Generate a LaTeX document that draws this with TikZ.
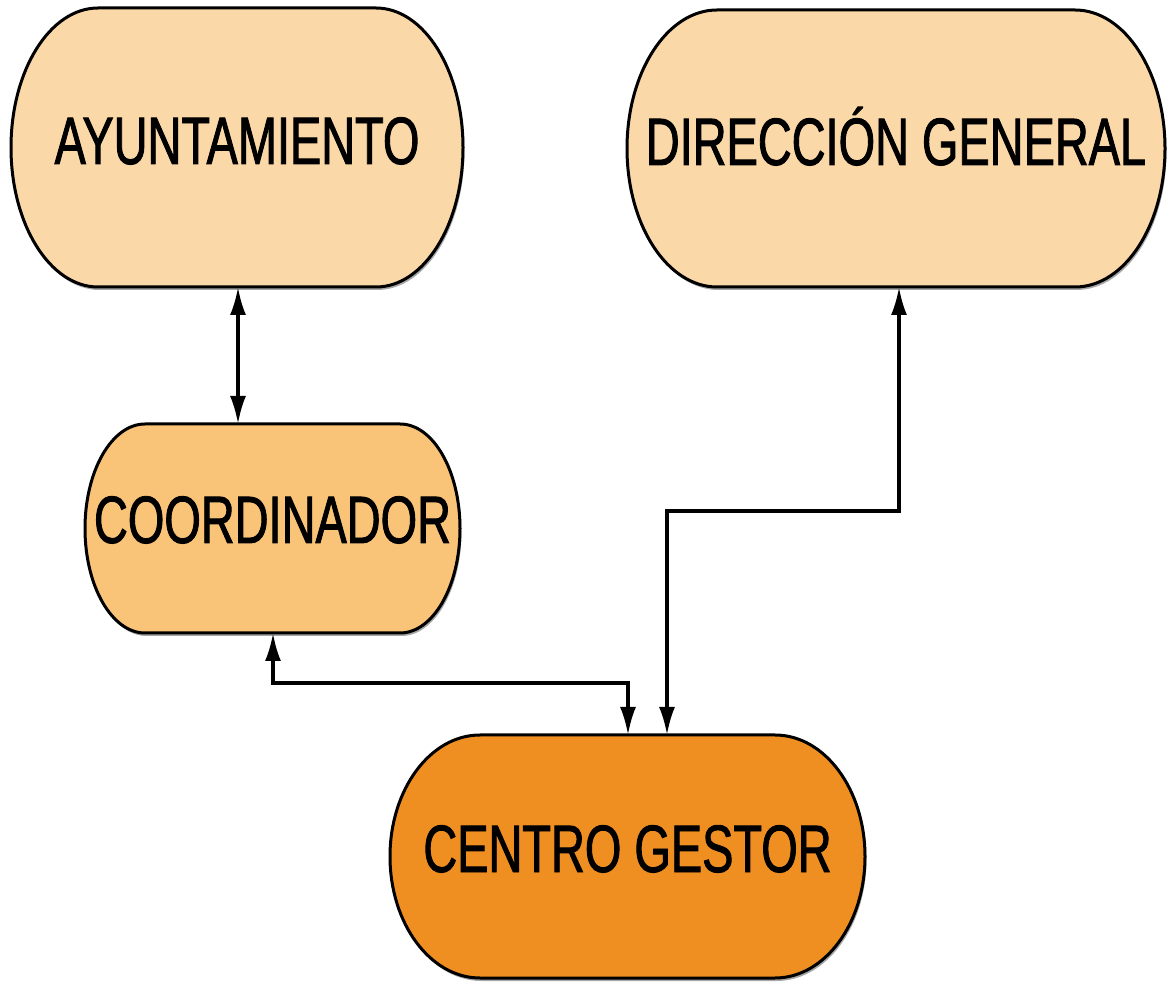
\documentclass[tikz,border=0pt]{standalone}
\usepackage{fontspec}
\newfontfamily\lbl[FakeStretch=0.7,FakeBold=1.3]{Liberation Sans}
\usetikzlibrary{arrows.meta,calc}
\pgfdeclarelayer{background}
\pgfsetlayers{background,main}
\definecolor{peach}{HTML}{FBD8A8}
\definecolor{lorange}{HTML}{FAC478}
\definecolor{dorange}{HTML}{EF8F22}
\tikzset{
  boxnode/.style={inner sep=0pt, outer sep=0pt, anchor=north west, align=center,
    font=\lbl\fontsize{67}{67}\selectfont},
  boxline/.style={line width=3pt, draw=black},
  conn/.style={line width=3.2pt, draw=black, {Latex[length=28pt,width=16pt]}-{Latex[length=28pt,width=16pt]}}
}
\newcommand\stadium[3]{%
  \begin{pgfonlayer}{background}
  \fill[black!35] let \p1=(#1.north west), \p2=(#1.south east), \n1={(\y1-\y2)/2} in
    ($(\x1+#2pt,\y1)+(1.5,-3)$) -- ($(\x2-#2pt,\y1)+(1.5,-3)$)
    arc[start angle=90,end angle=-90,x radius=#2pt,y radius=\n1]
    -- ($(\x1+#2pt,\y2)+(1.5,-3)$)
    arc[start angle=270,end angle=90,x radius=#2pt,y radius=\n1] -- cycle;
  \path[boxline, fill=#3] let \p1=(#1.north west), \p2=(#1.south east), \n1={(\y1-\y2)/2} in
    (\x1+#2pt,\y1) -- (\x2-#2pt,\y1)
    arc[start angle=90,end angle=-90,x radius=#2pt,y radius=\n1]
    -- (\x1+#2pt,\y2)
    arc[start angle=270,end angle=90,x radius=#2pt,y radius=\n1] -- cycle;
  \end{pgfonlayer}}
\begin{document}
\begin{tikzpicture}[x=1pt,y=1pt]
\useasboundingbox (0,0) rectangle (1173,986);
% boxes
\node[boxnode, minimum width=452pt, text height=156pt, text depth=123pt] (ayun) at (11,978) {AYUNTAMIENTO};
\node[boxnode, minimum width=538pt, text height=155pt, text depth=122pt] (dg) at (627,976) {DIRECCIÓN GENERAL};
\node[boxnode, minimum width=375pt, text height=119pt, text depth=90pt] (coord) at (85,562) {COORDINADOR};
\node[boxnode, minimum width=475pt, text height=137pt, text depth=106pt] (cg) at (390,251) {CENTRO GESTOR};
\stadium{ayun}{87}{peach}
\stadium{dg}{90}{peach}
\stadium{coord}{60}{lorange}
\stadium{cg}{90}{dorange}
% connector coordinates
\coordinate (j0) at (238,600);
\coordinate (j1) at (273,303);
\coordinate (j2) at (628,303);
\coordinate (j3) at (899,475);
\coordinate (j4) at (667,475);
% connectors
\draw[conn] (ayun.south -| j0) -- (coord.north -| j0);
\draw[conn] (coord.south -| j1) -- (j1) -- (j2) -- (cg.north -| j2);
\draw[conn] (dg.south -| j3) -- (j3) -- (j4) -- (cg.north -| j4);
\end{tikzpicture}
\end{document}
